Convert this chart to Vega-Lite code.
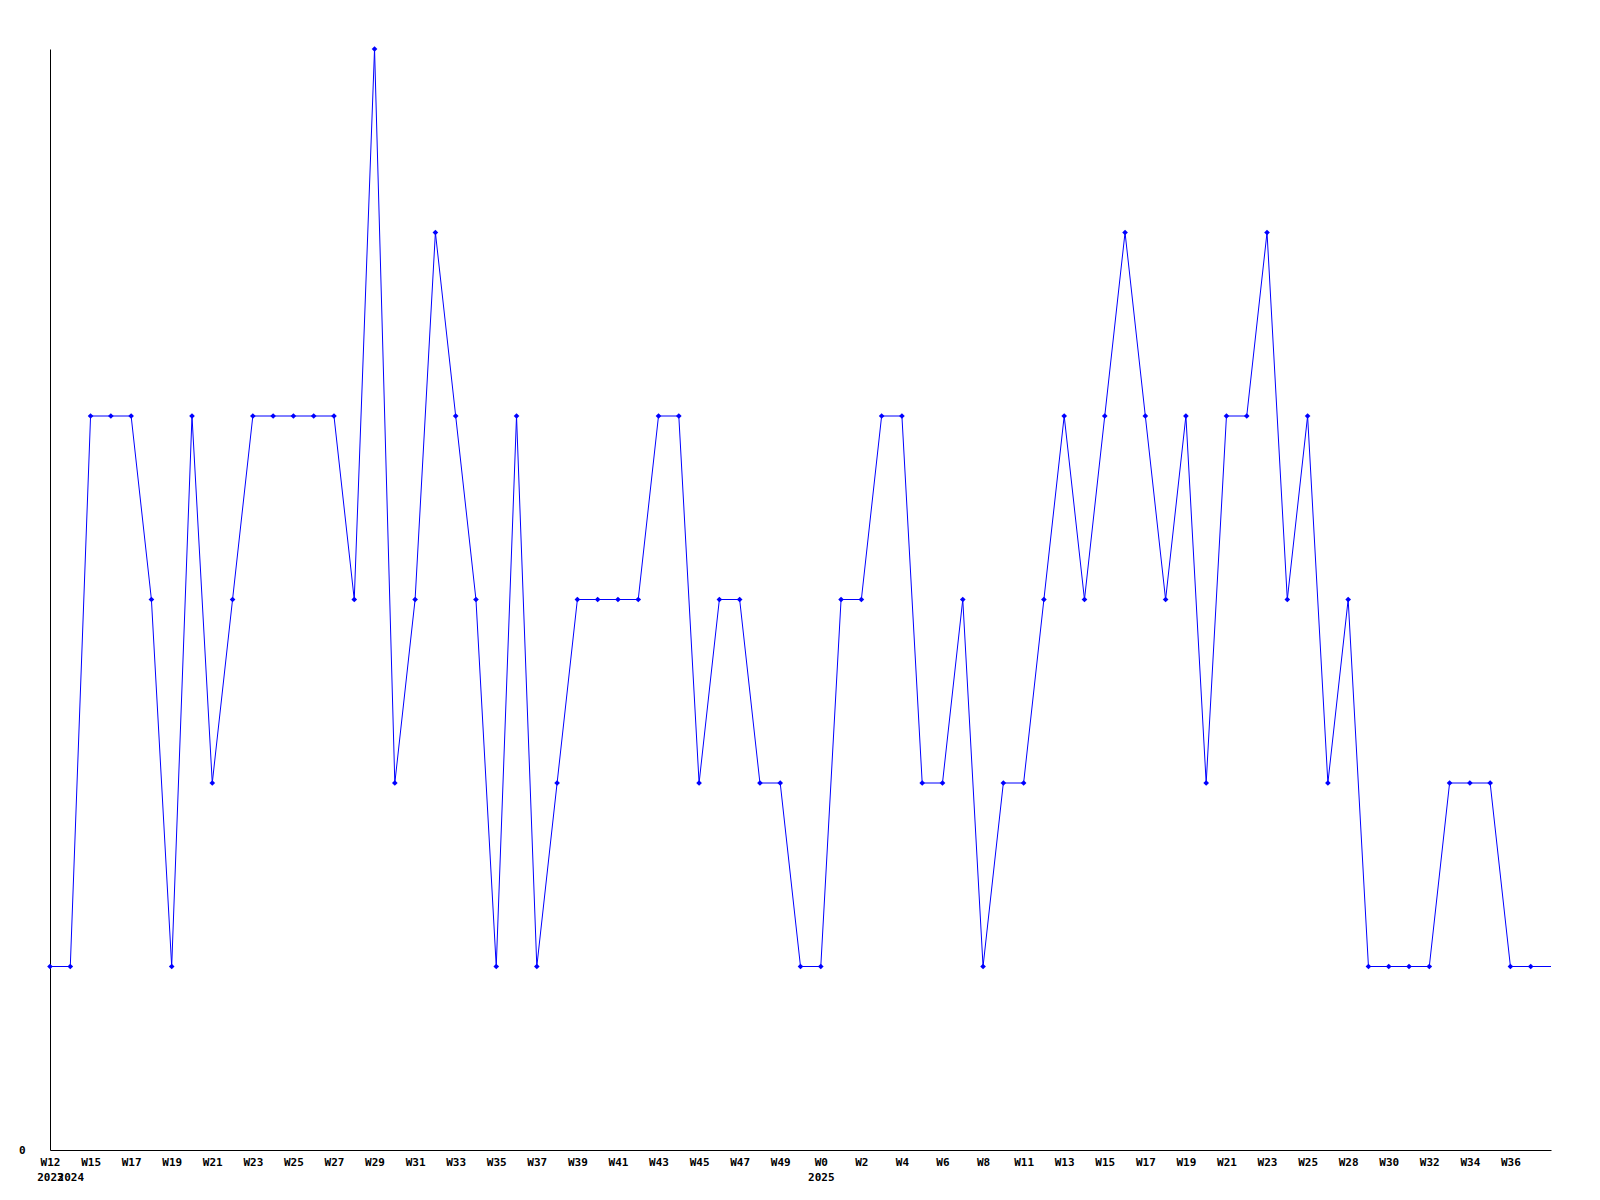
{
  "$schema": "https://vega.github.io/schema/vega-lite/v6.json",
  "width": 1501,
  "height": 1101,
  "autosize": {"type": "none"},
  "padding": {"left": 50, "top": 49, "right": 49, "bottom": 50},
  "background": "white",
  "config": {
    "view": {"stroke": null},
    "axis": {"labelFont": "DejaVu Sans Mono", "labelFontWeight": "bold", "labelFontSize": 11, "labelColor": "black", "domainColor": "black", "domainWidth": 1, "grid": false, "ticks": false, "title": null}
  },
  "data": {"values": [
    {"k": "01~W12~2023", "v": 1, "m": true},
    {"k": "02~W14~2024", "v": 1, "m": true},
    {"k": "03~W15~", "v": 4, "m": true},
    {"k": "04~W16~", "v": 4, "m": true},
    {"k": "05~W17~", "v": 4, "m": true},
    {"k": "06~W18~", "v": 3, "m": true},
    {"k": "07~W19~", "v": 1, "m": true},
    {"k": "08~W20~", "v": 4, "m": true},
    {"k": "09~W21~", "v": 2, "m": true},
    {"k": "10~W22~", "v": 3, "m": true},
    {"k": "11~W23~", "v": 4, "m": true},
    {"k": "12~W24~", "v": 4, "m": true},
    {"k": "13~W25~", "v": 4, "m": true},
    {"k": "14~W26~", "v": 4, "m": true},
    {"k": "15~W27~", "v": 4, "m": true},
    {"k": "16~W28~", "v": 3, "m": true},
    {"k": "17~W29~", "v": 6, "m": true},
    {"k": "18~W30~", "v": 2, "m": true},
    {"k": "19~W31~", "v": 3, "m": true},
    {"k": "20~W32~", "v": 5, "m": true},
    {"k": "21~W33~", "v": 4, "m": true},
    {"k": "22~W34~", "v": 3, "m": true},
    {"k": "23~W35~", "v": 1, "m": true},
    {"k": "24~W36~", "v": 4, "m": true},
    {"k": "25~W37~", "v": 1, "m": true},
    {"k": "26~W38~", "v": 2, "m": true},
    {"k": "27~W39~", "v": 3, "m": true},
    {"k": "28~W40~", "v": 3, "m": true},
    {"k": "29~W41~", "v": 3, "m": true},
    {"k": "30~W42~", "v": 3, "m": true},
    {"k": "31~W43~", "v": 4, "m": true},
    {"k": "32~W44~", "v": 4, "m": true},
    {"k": "33~W45~", "v": 2, "m": true},
    {"k": "34~W46~", "v": 3, "m": true},
    {"k": "35~W47~", "v": 3, "m": true},
    {"k": "36~W48~", "v": 2, "m": true},
    {"k": "37~W49~", "v": 2, "m": true},
    {"k": "38~W50~", "v": 1, "m": true},
    {"k": "39~W0~2025", "v": 1, "m": true},
    {"k": "40~W1~", "v": 3, "m": true},
    {"k": "41~W2~", "v": 3, "m": true},
    {"k": "42~W3~", "v": 4, "m": true},
    {"k": "43~W4~", "v": 4, "m": true},
    {"k": "44~W5~", "v": 2, "m": true},
    {"k": "45~W6~", "v": 2, "m": true},
    {"k": "46~W7~", "v": 3, "m": true},
    {"k": "47~W8~", "v": 1, "m": true},
    {"k": "48~W10~", "v": 2, "m": true},
    {"k": "49~W11~", "v": 2, "m": true},
    {"k": "50~W12~", "v": 3, "m": true},
    {"k": "51~W13~", "v": 4, "m": true},
    {"k": "52~W14~", "v": 3, "m": true},
    {"k": "53~W15~", "v": 4, "m": true},
    {"k": "54~W16~", "v": 5, "m": true},
    {"k": "55~W17~", "v": 4, "m": true},
    {"k": "56~W18~", "v": 3, "m": true},
    {"k": "57~W19~", "v": 4, "m": true},
    {"k": "58~W20~", "v": 2, "m": true},
    {"k": "59~W21~", "v": 4, "m": true},
    {"k": "60~W22~", "v": 4, "m": true},
    {"k": "61~W23~", "v": 5, "m": true},
    {"k": "62~W24~", "v": 3, "m": true},
    {"k": "63~W25~", "v": 4, "m": true},
    {"k": "64~W27~", "v": 2, "m": true},
    {"k": "65~W28~", "v": 3, "m": true},
    {"k": "66~W29~", "v": 1, "m": true},
    {"k": "67~W30~", "v": 1, "m": true},
    {"k": "68~W31~", "v": 1, "m": true},
    {"k": "69~W32~", "v": 1, "m": true},
    {"k": "70~W33~", "v": 2, "m": true},
    {"k": "71~W34~", "v": 2, "m": true},
    {"k": "72~W35~", "v": 2, "m": true},
    {"k": "73~W36~", "v": 1, "m": true},
    {"k": "74~W37~", "v": 1, "m": true},
    {"k": "75~W38~", "v": 1, "m": false}
  ]},
  "encoding": {
    "x": {
      "field": "k", "type": "ordinal", "sort": null,
      "scale": {"type": "point", "padding": 0},
      "axis": {
        "labelAngle": 0, "labelOverlap": false, "labelFlush": false, "labelBound": false,
        "labelPadding": 6, "labelLineHeight": 15, "labelBaseline": "top",
        "labelExpr": "[(parseInt(split(datum.value,'~')[0]) % 2 == 1 && parseInt(split(datum.value,'~')[0]) < 75) ? split(datum.value,'~')[1] : '', split(datum.value,'~')[2]]"
      }
    },
    "y": {
      "field": "v", "type": "quantitative",
      "scale": {"domain": [0, 6], "nice": false, "zero": true},
      "axis": {"values": [0], "labelPadding": 25}
    }
  },
  "layer": [
    {"mark": {"type": "line", "color": "#0000ff", "strokeWidth": 1}},
    {
      "transform": [{"filter": "datum.m"}],
      "mark": {"type": "point", "shape": "diamond", "filled": true, "color": "#0000ff", "size": 32, "opacity": 1}
    }
  ]
}
